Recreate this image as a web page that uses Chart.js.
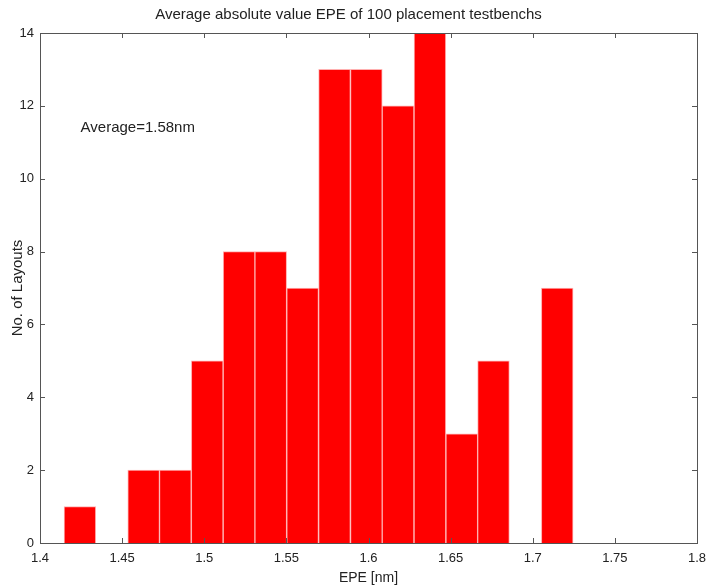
<!DOCTYPE html>
<html>
<head>
<meta charset="utf-8">
<script src="https://cdn.jsdelivr.net/npm/chart.js@4"></script>
<style>
  html, body { margin: 0; padding: 0; background: #fff; }
  #wrap { width: 711px; height: 587px; }
</style>
</head>
<body>
<div id="wrap"><canvas id="epeChart" width="711" height="587"></canvas></div>
<script>
// histogram bins (centres, nm) and counts
const binCenters = [1.4243, 1.4437, 1.4631, 1.4824, 1.5018, 1.5212, 1.5405, 1.5599,
                    1.5793, 1.5987, 1.6180, 1.6374, 1.6568, 1.6761, 1.6955, 1.7149];
const layoutCounts = [1, 0, 2, 2, 5, 8, 8, 7, 13, 13, 12, 14, 3, 5, 0, 7];
const xTicks = [1.4, 1.45, 1.5, 1.55, 1.6, 1.65, 1.7, 1.75, 1.8];
const yTicks = [0, 2, 4, 6, 8, 10, 12, 14];
const titleText = 'Average absolute value EPE of 100 placement testbenchs';
const noteText = 'Average=1.58nm';

const FONT = 'Arial, "Liberation Sans", sans-serif';
const points = binCenters.map((x, i) => ({ x: x, y: layoutCounts[i] === 0 ? null : layoutCounts[i] }));

// matlab style box with inward ticks + the average note
const boxPlugin = {
    id: 'box',
    afterDraw(chart) {
        const { ctx, chartArea: a, scales } = chart;
        ctx.save();
        ctx.strokeStyle = '#555';
        ctx.lineWidth = 1;
        ctx.strokeRect(a.left + 0.5, a.top + 0.5, a.right - a.left, a.bottom - a.top);
        ctx.beginPath();
        xTicks.forEach(v => {
            const px = Math.round(scales.x.getPixelForValue(v)) + 0.5;
            ctx.moveTo(px, a.bottom); ctx.lineTo(px, a.bottom - 5);
            ctx.moveTo(px, a.top); ctx.lineTo(px, a.top + 5);
        });
        yTicks.forEach(v => {
            const py = Math.round(scales.y.getPixelForValue(v)) + 0.5;
            ctx.moveTo(a.left, py); ctx.lineTo(a.left + 5, py);
            ctx.moveTo(a.right, py); ctx.lineTo(a.right - 5, py);
        });
        ctx.stroke();
        ctx.fillStyle = '#222';
        ctx.font = '15px ' + FONT;
        ctx.textBaseline = 'middle';
        ctx.fillText(noteText, scales.x.getPixelForValue(1.4247), scales.y.getPixelForValue(11.4));
        ctx.restore();
    }
};

const ctx = document.getElementById('epeChart').getContext('2d');
new Chart(ctx, {
    type: 'bar',
    data: {
        datasets: [{
            label: 'No. of Layouts',
            data: points,
            backgroundColor: '#ff0000',
            borderColor: '#ffb0b0',
            borderWidth: 1,
            barPercentage: 1.0,
            categoryPercentage: 1.0
        }]
    },
    options: {
        responsive: false,
        animation: false,
        layout: { padding: { left: 0, right: 14, top: 0, bottom: 0 } },
        plugins: {
            legend: { display: false },
            tooltip: { enabled: false },
            title: {
                display: true,
                text: titleText,
                color: '#222',
                font: { family: FONT, size: 15, weight: 'normal' },
                padding: { top: 6, bottom: 9 }
            }
        },
        scales: {
            x: {
                type: 'linear',
                offset: false,
                min: 1.4,
                max: 1.8,
                afterBuildTicks: s => { s.ticks = xTicks.map(v => ({ value: v })); },
                afterFit: s => { s.height = 44; s.paddingRight = 0; s.paddingLeft = 0; },
                grid: { display: false, drawTicks: false, offset: false },
                border: { display: false },
                ticks: {
                    color: '#222',
                    padding: 8,
                    maxRotation: 0,
                    font: { family: FONT, size: 13 },
                    callback: v => String(Number(v.toFixed(2)))
                },
                title: {
                    display: true,
                    text: 'EPE [nm]',
                    color: '#222',
                    padding: { top: 2, bottom: 0 },
                    font: { family: FONT, size: 14 }
                }
            },
            y: {
                min: 0,
                max: 14,
                afterBuildTicks: s => { s.ticks = yTicks.map(v => ({ value: v })); },
                afterFit: s => { s.width = 40; },
                grid: { display: false, drawTicks: false },
                border: { display: false },
                ticks: {
                    color: '#222',
                    padding: 6,
                    font: { family: FONT, size: 13 }
                },
                title: {
                    display: true,
                    text: 'No. of Layouts',
                    color: '#222',
                    padding: { top: 9, bottom: 0 },
                    font: { family: FONT, size: 15 }
                }
            }
        }
    },
    plugins: [boxPlugin]
});
</script>
</body>
</html>
